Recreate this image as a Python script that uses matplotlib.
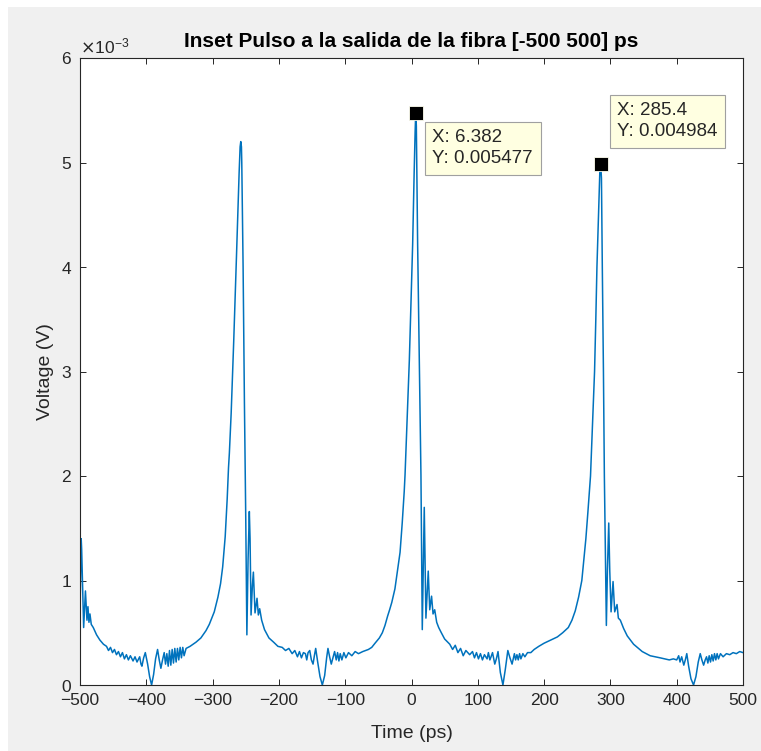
import matplotlib
matplotlib.use("Agg")
import matplotlib.pyplot as plt
from matplotlib.patches import Rectangle

plt.rcParams['font.family'] = ['Liberation Sans', 'DejaVu Sans']

# Tiempo (ps) y voltaje (x1e-3 V)
time_ps = [
    -500, -499.6, -498.2, -497.5, -494.5, -493, -491.8, -489.5, -488, -486.5,
    -485, -483, -480, -475, -470, -464.6, -460, -457, -454, -451, -448, -445,
    -442, -439, -436, -433, -430, -427, -424, -420, -417, -414, -410, -408,
    -406.6, -404, -401.5, -398, -395, -392, -389, -386, -383, -380.5, -378,
    -375.5, -373, -371, -369, -367, -365, -363, -361, -359, -357, -355, -353,
    -351, -349, -347, -345, -343, -340, -334, -325, -317.7, -310, -305, -300,
    -297.5, -292, -288, -284.8, -281, -278, -276, -274.7, -272, -270, -268.2,
    -266, -264, -262, -260, -258.5, -257.5, -256.5, -256, -254, -252, -250,
    -248.3, -246.5, -244.6, -243.5, -242, -240, -238.5, -236, -233, -231,
    -229, -226, -221.7, -215, -208, -201.5, -195, -190, -185, -180, -176,
    -172, -169, -166, -163, -160, -158, -156, -153.5, -151, -148.5, -146.5,
    -144.5, -141.5, -138, -134.5, -131, -128, -126, -123.5, -121, -118.5,
    -116, -113.5, -111.5, -109.5, -107.5, -105, -102, -99, -95, -90, -85,
    -80, -73.5, -65, -60, -55, -48.5, -44, -40, -36, -33, -29.75, -25,
    -20.5, -17.25, -14, -11, -9.75, -6.5, -3.25, -1, 1.75, 4, 5.5, 6.4, 7.3,
    9.25, 12, 14.25, 16.25, 18, 19.25, 20.5, 21.75, 25.25, 27.5, 30.25,
    32.5, 35, 38, 41, 45, 50, 57.75, 62, 66, 70, 74, 78, 82, 87.75, 92, 95,
    98, 101, 104, 107, 110, 114, 116, 118.2, 120, 122.2, 125.6, 128, 130.5,
    134, 137.9, 141.5, 145.3, 148.5, 151.7, 153.5, 155.2, 157, 159, 161,
    163, 165, 168, 171, 175, 180, 185, 192, 200, 210, 220, 228, 236.5, 242,
    247, 252, 256.9, 260, 263, 266, 270, 273, 276.1, 278, 279.7, 282, 284,
    285.4, 286.5, 287.8, 289.5, 290.9, 292.5, 293.9, 295.5, 297.5, 299,
    301, 304, 306.5, 308, 310, 312, 315, 320, 325.4, 335, 348, 360, 375,
    388.8, 395, 400, 403, 405, 407.5, 410.7, 413, 415.2, 418, 421.5, 425.4,
    429, 432.5, 435.5, 438, 440.6, 443, 445, 447, 449, 451, 453, 455, 457,
    459, 461, 463, 466, 470, 475, 480, 485, 490, 495, 500,
]
volt_mV = [
    0.32, 0.85, 1.40, 1.30, 0.55, 0.75, 0.90, 0.62, 0.75, 0.60,
    0.68, 0.58, 0.55, 0.48, 0.43, 0.39, 0.37, 0.33, 0.36, 0.31, 0.34, 0.29,
    0.32, 0.27, 0.31, 0.25, 0.29, 0.24, 0.28, 0.23, 0.27, 0.22, 0.27, 0.20,
    0.18, 0.26, 0.31, 0.20, 0.08, 0.0, 0.10, 0.25, 0.34, 0.24, 0.16,
    0.24, 0.31, 0.20, 0.30, 0.18, 0.33, 0.19, 0.34, 0.21, 0.35, 0.22, 0.35,
    0.24, 0.36, 0.26, 0.36, 0.28, 0.35, 0.37, 0.41, 0.45, 0.52, 0.58, 0.66,
    0.70, 0.84, 0.97, 1.13, 1.42, 1.78, 2.08, 2.22, 2.60, 2.95, 3.28,
    3.70, 4.10, 4.50, 4.90, 5.15, 5.20, 5.15, 5.00, 4.00, 2.70, 1.60,
    0.48, 1.20, 1.66, 1.40, 0.67, 0.95, 1.08, 0.69, 0.83, 0.67,
    0.73, 0.62, 0.53, 0.45, 0.41, 0.37, 0.36, 0.33, 0.35, 0.30, 0.33,
    0.27, 0.32, 0.26, 0.31, 0.30, 0.24, 0.31, 0.33, 0.24, 0.20, 0.28,
    0.35, 0.22, 0.08, 0.0, 0.09, 0.26, 0.35, 0.27, 0.20, 0.26,
    0.32, 0.24, 0.31, 0.23, 0.30, 0.24, 0.31, 0.26, 0.31, 0.28, 0.32,
    0.30, 0.32, 0.34, 0.36, 0.40, 0.45, 0.50, 0.57, 0.66, 0.72, 0.79, 0.92,
    1.12, 1.27, 1.55, 1.85, 2.01, 2.55, 3.11, 3.60, 4.22, 4.90, 5.30, 5.48, 5.35,
    4.22, 3.00, 2.01, 0.53, 1.20, 1.70, 1.20, 0.64, 1.09, 0.72, 0.85,
    0.68, 0.72, 0.60, 0.55, 0.50, 0.44, 0.39, 0.34, 0.38, 0.31, 0.35, 0.28,
    0.33, 0.29, 0.32, 0.26, 0.31, 0.25, 0.30, 0.24, 0.29, 0.25, 0.31,
    0.24, 0.27, 0.31, 0.20, 0.25, 0.32, 0.12, 0.0, 0.15, 0.33, 0.26,
    0.20, 0.25, 0.30, 0.24, 0.29, 0.24, 0.30, 0.25, 0.30, 0.27, 0.31,
    0.31, 0.34, 0.37, 0.40, 0.43, 0.46, 0.50, 0.55, 0.62, 0.71, 0.84,
    1.00, 1.20, 1.40, 1.65, 2.00, 2.50, 3.00, 3.50, 4.00, 4.50, 4.90,
    4.98, 4.85, 4.00, 3.00, 2.00, 1.20, 0.57, 1.10, 1.55, 1.10, 0.70,
    0.99, 0.70, 0.73, 0.77, 0.64, 0.62, 0.54, 0.47, 0.39, 0.32, 0.28,
    0.26, 0.24, 0.25, 0.24, 0.28, 0.22, 0.27, 0.19, 0.24, 0.30, 0.18,
    0.06, 0.0, 0.08, 0.22, 0.30, 0.24, 0.19, 0.24, 0.27, 0.21, 0.28,
    0.22, 0.29, 0.23, 0.30, 0.24, 0.30, 0.25, 0.30, 0.27, 0.30, 0.29, 0.31,
    0.30, 0.32, 0.31,
]

# Datatips (X, Y) y desplazamiento del cuadro (pt)
tip_x = [6.382, 285.4]
tip_y = [0.005477, 0.004984]
tip_offsets = [(12, -12), (12, 44.5)]

volt = [v * 1e-3 for v in volt_mV]

fig = plt.figure(figsize=(7.61, 7.51), dpi=100, facecolor='white')
fig.add_artist(Rectangle((8 / 761, 0), 1, (751 - 7) / 751,
                         transform=fig.transFigure, facecolor='#f0f0f0',
                         edgecolor='none', zorder=-10))
ax = fig.add_axes([80 / 761, 66 / 751, 663 / 761, 627 / 751])

ax.plot(time_ps, volt, color='#0072BD', lw=1.1)

ax.set_xlim(-500, 500)
ax.set_ylim(0, 6e-3)
ax.set_xticks(range(-500, 501, 100))
ax.set_yticks([i * 1e-3 for i in range(7)])
ax.ticklabel_format(style='sci', axis='y', scilimits=(0, 0), useMathText=True)
ax.yaxis.get_offset_text().set_fontsize(12.5)
ax.yaxis.get_offset_text().set_color('#262626')

ax.tick_params(direction='in', top=True, right=True, length=4, width=0.7,
               labelsize=12.5, colors='#262626', pad=6)
for s in ax.spines.values():
    s.set_color('#262626')
    s.set_linewidth(0.8)

ax.set_title('Inset Pulso a la salida de la fibra [-500 500] ps',
             fontsize=15, fontweight='bold', color='black', pad=8)
ax.set_xlabel('Time (ps)', fontsize=14, color='#262626', labelpad=12)
ax.set_ylabel('Voltage (V)', fontsize=14, color='#262626', labelpad=5)

for tx, ty, off in zip(tip_x, tip_y, tip_offsets):
    ax.plot([tx], [ty], 's', color='black', markersize=9.5,
            markeredgecolor='#fffff0', markeredgewidth=0.6, clip_on=False)
    ax.annotate('X: %g\nY: %g' % (tx, ty), xy=(tx, ty),
                xytext=off, textcoords='offset points', ha='left', va='top',
                fontsize=13.5, color='#262626', linespacing=1.3,
                bbox=dict(boxstyle='square,pad=0.4', facecolor='#ffffe1',
                          edgecolor='#a0a0a0', linewidth=0.8))

fig.savefig('out.png', dpi=100, facecolor=fig.get_facecolor())
